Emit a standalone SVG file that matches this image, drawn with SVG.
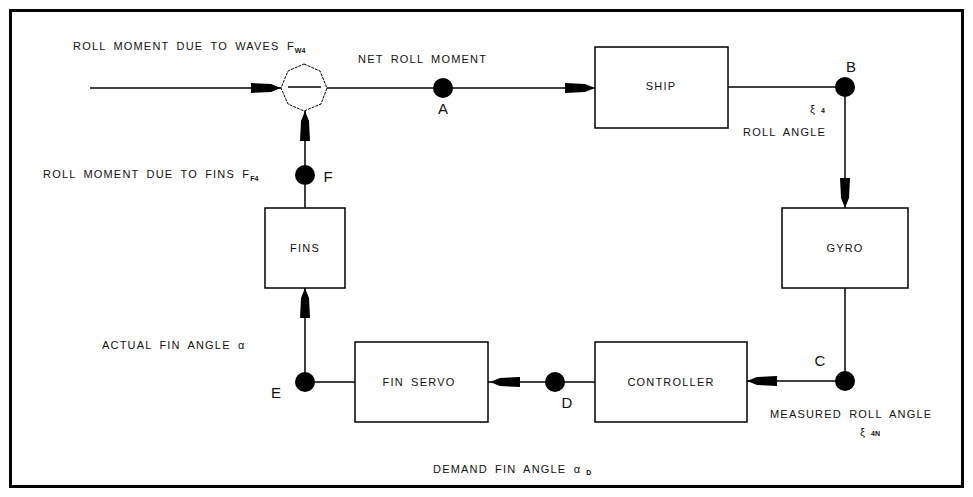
<svg xmlns="http://www.w3.org/2000/svg" width="973" height="497" viewBox="0 0 973 497">
<style>
.box{fill:#fff;stroke:#000;stroke-width:1.5}
.ln{fill:none;stroke:#000;stroke-width:1.5}
.t{font-family:"Liberation Sans",Arial,sans-serif;font-size:11px;fill:#111;letter-spacing:1.2px;word-spacing:3px}
.lab{font-family:"Liberation Sans",Arial,sans-serif;font-size:15px;fill:#111}
.sub{font-size:7px;font-weight:bold;letter-spacing:0}
.dot{fill:#000}
</style>
<defs>
<path id="arr" d="M0,0 L-10,-4 L-30,-5 L-30,5 L-10,4 Z" fill="#000"/>
</defs>
<rect x="10.5" y="10.5" width="952" height="476" fill="#fff" stroke="#000" stroke-width="3"/>

<g id="connectors">
<line class="ln" x1="90" y1="88" x2="281" y2="88"/>
<use href="#arr" transform="translate(281,88)"/>
<line class="ln" x1="327" y1="88" x2="595" y2="88"/>
<use href="#arr" transform="translate(595,88)"/>
<line class="ln" x1="728" y1="87" x2="845" y2="87"/>
<line class="ln" x1="845" y1="87" x2="845" y2="208"/>
<use href="#arr" transform="translate(845,208) rotate(90)"/>
<line class="ln" x1="845" y1="288" x2="845" y2="381"/>
<line class="ln" x1="845" y1="381" x2="747" y2="381"/>
<use href="#arr" transform="translate(747,381) rotate(180)"/>
<line class="ln" x1="595" y1="382" x2="488" y2="382"/>
<use href="#arr" transform="translate(490,382) rotate(180)"/>
<line class="ln" x1="355" y1="382" x2="305" y2="382"/>
<line class="ln" x1="305" y1="382" x2="305" y2="288"/>
<use href="#arr" transform="translate(305,288) rotate(-90)"/>
<line class="ln" x1="305" y1="208" x2="305" y2="110"/>
<use href="#arr" transform="translate(305,111) rotate(-90)"/>
</g>

<g id="junction">
<polygon points="304,64 320,71 327,88 321,104 304,111 288,104 281,88 288,71" fill="#fff" stroke="#000" stroke-width="1" stroke-dasharray="3,1"/>
<line class="ln" x1="288" y1="87" x2="321" y2="87"/>
</g>

<g id="ship"><rect class="box" x="595" y="47" width="133" height="81"/><text class="t" x="661" y="90" text-anchor="middle">SHIP</text></g>
<g id="gyro"><rect class="box" x="782" y="208" width="126" height="80"/><text class="t" x="845" y="252" text-anchor="middle">GYRO</text></g>
<g id="controller"><rect class="box" x="595" y="342" width="152" height="80"/><text class="t" x="671" y="386" text-anchor="middle">CONTROLLER</text></g>
<g id="finservo"><rect class="box" x="355" y="342" width="133" height="80"/><text class="t" x="419" y="386" text-anchor="middle">FIN SERVO</text></g>
<g id="fins"><rect class="box" x="265" y="208" width="80" height="80"/><text class="t" x="305" y="252" text-anchor="middle">FINS</text></g>

<g id="pointA"><circle class="dot" cx="443" cy="88" r="10"/><text class="lab" x="443" y="114" text-anchor="middle">A</text></g>
<g id="pointB"><circle class="dot" cx="845" cy="87" r="10"/><text class="lab" x="851" y="72" text-anchor="middle">B</text></g>
<g id="pointC"><circle class="dot" cx="845" cy="381" r="10"/><text class="lab" x="820" y="366" text-anchor="middle">C</text></g>
<g id="pointD"><circle class="dot" cx="555" cy="382" r="10"/><text class="lab" x="567" y="408" text-anchor="middle">D</text></g>
<g id="pointE"><circle class="dot" cx="305" cy="382" r="10"/><text class="lab" x="276" y="398" text-anchor="middle">E</text></g>
<g id="pointF"><circle class="dot" cx="305" cy="175" r="10"/><text class="lab" x="328" y="182" text-anchor="middle">F</text></g>

<g id="labels">
<text class="t" x="73" y="50">ROLL MOMENT DUE TO WAVES F<tspan class="sub" dy="3">W4</tspan></text>
<text class="t" x="358" y="63">NET ROLL MOMENT</text>
<text class="t" x="810" y="113" style="font-size:11px">ξ<tspan class="sub"> 4</tspan></text>
<text class="t" x="743" y="136">ROLL ANGLE</text>
<text class="t" x="43" y="178">ROLL MOMENT DUE TO FINS F<tspan class="sub" dy="3">F4</tspan></text>
<text class="t" x="102" y="349">ACTUAL FIN ANGLE α</text>
<text class="t" x="770" y="418">MEASURED ROLL ANGLE</text>
<text class="t" x="860" y="436" style="font-size:11px">ξ<tspan class="sub"> 4N</tspan></text>
<text class="t" x="433" y="473">DEMAND FIN ANGLE α<tspan class="sub" dy="2"> D</tspan></text>
</g>
</svg>
